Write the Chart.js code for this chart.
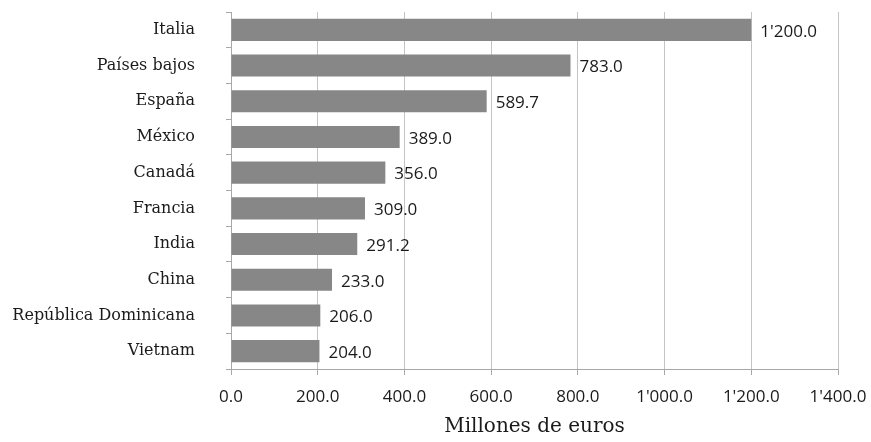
<!DOCTYPE html>
<html>
<head>
<meta charset="utf-8">
<script src="https://cdn.jsdelivr.net/npm/chart.js@4"></script>
<style>
  html, body { margin: 0; padding: 0; background: #fff; }
  #wrap { width: 871px; height: 442px; }
</style>
</head>
<body>
<div id="wrap"><canvas id="importChart" width="871" height="442"></canvas></div>
<script>
// datos del grafico
const paises = ['Italia', 'Países bajos', 'España', 'México', 'Canadá', 'Francia', 'India', 'China', 'República Dominicana', 'Vietnam'];
const valores = [1200, 783, 589.7, 389, 356, 309, 291.2, 233, 206, 204];
const ejeMin = 0;
const ejeMax = 1400;
const ejePaso = 200;
const tituloEje = 'Millones de euros';

// 1200 -> 1'200.0
function fmt(v) {
    const partes = Number(v).toFixed(1).split('.');
    return partes[0].replace(/\B(?=(\d{3})+(?!\d))/g, "'") + '.' + partes[1];
}

const etiquetasValor = {
    id: 'etiquetasValor',
    afterDatasetsDraw(chart) {
        const ctx = chart.ctx;
        const meta = chart.getDatasetMeta(0);
        ctx.save();
        ctx.font = '17px "Open Sans"';
        ctx.fillStyle = '#1a1a1a';
        ctx.textAlign = 'left';
        ctx.textBaseline = 'middle';
        meta.data.forEach((bar, i) => {
            ctx.fillText(fmt(valores[i]), bar.x + 9, bar.y + 2);
        });
        ctx.restore();
    }
};

const ctx = document.getElementById('importChart');
new Chart(ctx, {
    type: 'bar',
    data: {
        labels: paises,
        datasets: [{
            data: valores,
            backgroundColor: '#878787',
            borderWidth: 0,
            categoryPercentage: 1,
            barPercentage: 0.62
        }]
    },
    options: {
        indexAxis: 'y',
        responsive: false,
        animation: false,
        layout: { padding: { top: 12, right: 33, left: 0, bottom: 0 } },
        plugins: {
            legend: { display: false },
            tooltip: { enabled: false }
        },
        scales: {
            x: {
                min: ejeMin,
                max: ejeMax,
                afterFit: (scale) => {
                    scale.height = 73;
                    scale.paddingLeft = 0;
                    scale.paddingRight = 0;
                },
                ticks: {
                    stepSize: ejePaso,
                    callback: (v) => fmt(v),
                    color: '#1a1a1a',
                    font: { family: '"Open Sans"', size: 17 },
                    padding: 12,
                    maxRotation: 0
                },
                grid: { color: '#c4c4c4', tickColor: '#a8a8a8', tickLength: 6, lineWidth: 1 },
                border: { display: true, color: '#a8a8a8' },
                title: {
                    display: true,
                    text: tituloEje,
                    color: '#1a1a1a',
                    font: { family: '"DejaVu Serif"', size: 20 },
                    padding: { top: 0, bottom: 3 }
                }
            },
            y: {
                afterFit: (scale) => {
                    scale.width = 231;
                    // el padding de las etiquetas no debe empujar el area del grafico
                    scale.paddingTop = 0;
                    scale.paddingBottom = 0;
                },
                ticks: {
                    color: '#1a1a1a',
                    font: { family: '"DejaVu Serif"', size: 16 },
                    padding: 31
                },
                grid: { drawOnChartArea: false, offset: true, tickLength: 5, color: '#a8a8a8' },
                border: { display: true, color: '#a8a8a8' }
            }
        }
    },
    plugins: [etiquetasValor]
});
</script>
</body>
</html>
